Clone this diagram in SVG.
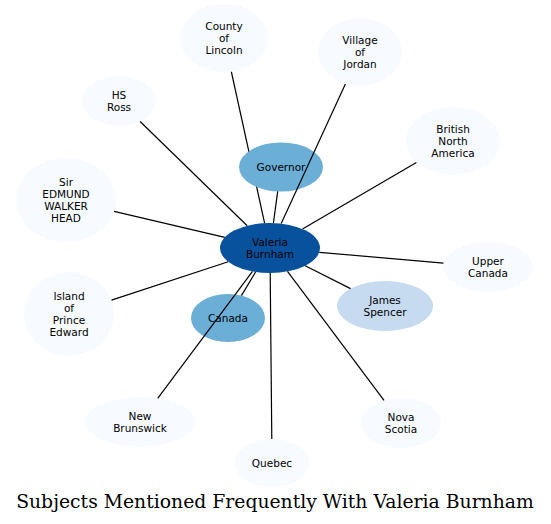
<svg xmlns="http://www.w3.org/2000/svg" width="551" height="524" viewBox="0 0 551 524">
<style>
.n0{fill:#f7fbff;stroke:none}
.n1{fill:#c6dbef;stroke:none}
.n2{fill:#6baed6;stroke:none}
.n3{fill:#08519c;stroke:none}
.lbl{font-family:"DejaVu Sans",sans-serif;font-size:10.5px;fill:#000;text-anchor:middle}
.e{stroke:#000;stroke-width:1.2;fill:none}
.title{font-family:"DejaVu Serif",serif;font-size:18.8px;fill:#000;text-anchor:middle}
</style>
<rect width="551" height="524" fill="#fff"/>
<g id="edges-under">
<line class="e" x1="264.6" y1="223.2" x2="231.3" y2="71.5"/>
</g>
<g id="nodes">
<g id="valeria-burnham"><ellipse class="n3" cx="270" cy="248" rx="50" ry="25"/><text class="lbl" x="270" y="245.5">Valeria</text><text class="lbl" x="270" y="257.5">Burnham</text></g>
<g id="governor"><ellipse class="n2" cx="281" cy="167" rx="42" ry="24.5"/><text class="lbl" x="281" y="170.5">Governor</text></g>
<g id="canada"><ellipse class="n2" cx="228" cy="318" rx="37" ry="24"/><text class="lbl" x="228" y="321.5">Canada</text></g>
<g id="james-spencer"><ellipse class="n1" cx="385" cy="306" rx="48" ry="25"/><text class="lbl" x="385" y="303.5">James</text><text class="lbl" x="385" y="315.5">Spencer</text></g>
<g id="upper-canada"><ellipse class="n0" cx="488" cy="267" rx="45" ry="25"/><text class="lbl" x="488" y="264.5">Upper</text><text class="lbl" x="488" y="276.5">Canada</text></g>
<g id="british-north-america"><ellipse class="n0" cx="453" cy="141" rx="47" ry="34"/><text class="lbl" x="453" y="132.5">British</text><text class="lbl" x="453" y="144.5">North</text><text class="lbl" x="453" y="156.5">America</text></g>
<g id="county-of-lincoln"><ellipse class="n0" cx="224" cy="38" rx="44" ry="34"/><text class="lbl" x="224" y="29.5">County</text><text class="lbl" x="224" y="41.5">of</text><text class="lbl" x="224" y="53.5">Lincoln</text></g>
<g id="village-of-jordan"><ellipse class="n0" cx="360" cy="52" rx="42" ry="34"/><text class="lbl" x="360" y="43.5">Village</text><text class="lbl" x="360" y="55.5">of</text><text class="lbl" x="360" y="67.5">Jordan</text></g>
<g id="hs-ross"><ellipse class="n0" cx="119" cy="101" rx="37" ry="25"/><text class="lbl" x="119" y="98.5">HS</text><text class="lbl" x="119" y="110.5">Ross</text></g>
<g id="sir-edmund-walker-head"><ellipse class="n0" cx="66" cy="200" rx="50" ry="42"/><text class="lbl" x="66" y="185.5">Sir</text><text class="lbl" x="66" y="197.5">EDMUND</text><text class="lbl" x="66" y="209.5">WALKER</text><text class="lbl" x="66" y="221.5">HEAD</text></g>
<g id="island-of-prince-edward"><ellipse class="n0" cx="69" cy="314" rx="45" ry="42"/><text class="lbl" x="69" y="299.5">Island</text><text class="lbl" x="69" y="311.5">of</text><text class="lbl" x="69" y="323.5">Prince</text><text class="lbl" x="69" y="335.5">Edward</text></g>
<g id="new-brunswick"><ellipse class="n0" cx="140" cy="422" rx="55" ry="25"/><text class="lbl" x="140" y="419.5">New</text><text class="lbl" x="140" y="431.5">Brunswick</text></g>
<g id="quebec"><ellipse class="n0" cx="272" cy="463" rx="37" ry="24"/><text class="lbl" x="272" y="466.5">Quebec</text></g>
<g id="nova-scotia"><ellipse class="n0" cx="401" cy="423" rx="40" ry="25"/><text class="lbl" x="401" y="420.5">Nova</text><text class="lbl" x="401" y="432.5">Scotia</text></g>
</g>
<g id="edges">
<line class="e" x1="281.2" y1="223.6" x2="345.4" y2="83.9"/>
<line class="e" x1="273.4" y1="223.1" x2="277.7" y2="191.4"/>
<line class="e" x1="302.5" y1="229.0" x2="416.4" y2="162.4"/>
<line class="e" x1="319.3" y1="252.3" x2="443.5" y2="263.1"/>
<line class="e" x1="305.2" y1="265.8" x2="350.5" y2="288.6"/>
<line class="e" x1="287.5" y1="271.4" x2="384.0" y2="400.4"/>
<line class="e" x1="270.2" y1="273.0" x2="271.8" y2="439.0"/>
<line class="e" x1="252.5" y1="271.4" x2="157.7" y2="398.3"/>
<line class="e" x1="255.6" y1="272.0" x2="241.4" y2="295.6"/>
<line class="e" x1="228.2" y1="261.7" x2="111.5" y2="300.1"/>
<line class="e" x1="224.8" y1="237.4" x2="114.1" y2="211.3"/>
<line class="e" x1="247.2" y1="225.8" x2="140.1" y2="121.5"/>
</g>
<text class="title" x="275" y="507.5">Subjects Mentioned Frequently With Valeria Burnham</text>
</svg>
